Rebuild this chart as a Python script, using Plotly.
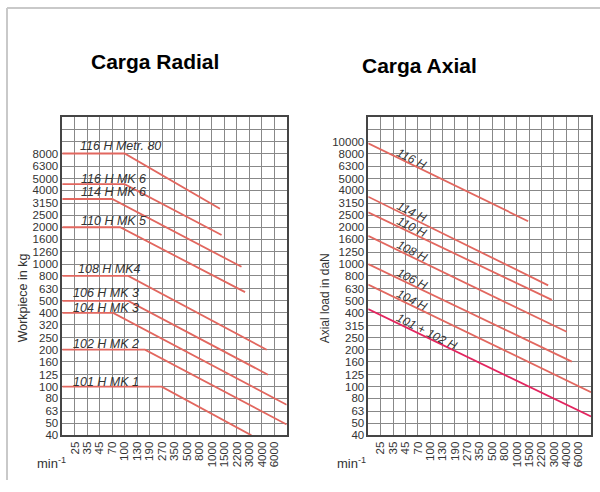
import numpy as np
import plotly.graph_objects as go

# ---------------- data ----------------
SPEED_TICKS = [25, 35, 45, 70, 100, 130, 190, 270, 350, 500, 800, 1000, 1500, 2200, 3000, 4000, 6000]
RADIAL_TICKS = [40, 50, 63, 80, 100, 125, 160, 200, 250, 320, 400, 500, 630, 800, 1000, 1260,
                1600, 2000, 2500, 3150, 4000, 5000, 6300, 8000]
AXIAL_TICKS = [40, 50, 63, 80, 100, 125, 160, 200, 250, 315, 400, 500, 630, 800, 1000, 1250,
               1600, 2000, 2500, 3150, 4000, 5000, 6300, 8000, 10000]
EXTRA_GRID = [10000, 12500]  # unlabeled grid rows above the labeled scale

START_RPM = 17.8  # lowest speed of the chart (left edge)

RADIAL_NAMES = ["116 H Metr. 80", "116 H MK 6", "114 H MK 6", "110 H MK 5", "108 H MK4",
                "106 H MK 3", "104 H MK 3", "102 H MK 2", "101 H MK 1"]
RADIAL_LOAD = [8000, 4500, 3400, 2000, 800, 500, 400, 200, 100]
RADIAL_KNEE_RPM = [100, 100, 70, 88, 108, 108, 72, 165, 267]
RADIAL_END_RPM = [1300, 1370, 2470, 2700, 4700, 4900, 9000, 9000, 3150]
RADIAL_END_LOAD = [2830, 1730, 950, 590, 200, 125, 71, 49, 40]

AXIAL_NAMES = ["116 H", "114 H", "110 H", "108 H", "106 H", "104 H", "101 + 102 H"]
AXIAL_START_LOAD = [9700, 3550, 2650, 1700, 1000, 680, 430]
AXIAL_END_RPM = [1450, 2600, 2850, 4050, 4800, 9000, 9000]
AXIAL_END_LOAD = [2240, 670, 510, 280, 160, 90, 57]
AXIAL_LABEL_RPM = [56.6, 56.6, 56.6, 56.6, 56.6, 56.6, 92.3]

# ---------------- styles ----------------
W, H = 600, 492
LINE_RED = "#e2675f"
LINE_PINK = "#e3255f"
GRID = "#888888"
BORDER = "#454545"
TXT = "#333333"
FONT = "Liberation Sans, Arial, sans-serif"
RADIAL_LABEL_XSHIFT = [16, 17, 17, 17, 14, 9, 9, 9, 9]
RADIAL_LABEL_YSHIFT = [7, 5, 7, 6, 7, 8, 5, 6, 5]


def py(px):
    """pixel row from the top -> paper y"""
    return 1 - px / H


def speed_pos(v):
    """speed (rpm) -> position on the evenly-spaced speed scale (log interpolation)."""
    lt = np.log(SPEED_TICKS)
    lv = np.log(v)
    if lv < lt[0]:
        return (lv - lt[0]) / (lt[1] - lt[0])
    if lv > lt[-1]:
        return len(lt) - 1 + (lv - lt[-1]) / (lt[-1] - lt[-2])
    return float(np.interp(lv, lt, np.arange(len(lt))))


fig = go.Figure()

# radial curves
for name, load, knee, erpm, eload in zip(RADIAL_NAMES, RADIAL_LOAD, RADIAL_KNEE_RPM,
                                         RADIAL_END_RPM, RADIAL_END_LOAD):
    xs = [speed_pos(START_RPM), speed_pos(knee), speed_pos(erpm)]
    ys = [load, load, eload]
    fig.add_trace(go.Scatter(x=xs, y=ys, mode="lines", name=name,
                             line=dict(color=LINE_RED, width=1.8),
                             xaxis="x", yaxis="y", showlegend=False, hoverinfo="skip"))

# axial curves
for k, (name, sload, erpm, eload) in enumerate(zip(AXIAL_NAMES, AXIAL_START_LOAD,
                                                   AXIAL_END_RPM, AXIAL_END_LOAD)):
    col = LINE_PINK if k == len(AXIAL_NAMES) - 1 else LINE_RED
    fig.add_trace(go.Scatter(x=[speed_pos(START_RPM), speed_pos(erpm)], y=[sload, eload],
                             mode="lines", name=name, line=dict(color=col, width=1.8),
                             xaxis="x2", yaxis="y2", showlegend=False, hoverinfo="skip"))

annotations = []
# radial labels
for name, load, xs_, ys_ in zip(RADIAL_NAMES, RADIAL_LOAD, RADIAL_LABEL_XSHIFT, RADIAL_LABEL_YSHIFT):
    annotations.append(dict(text="<i>" + name + "</i>", xref="x", yref="y", x=-1,
                            y=np.log10(load), xanchor="left", yanchor="middle",
                            xshift=xs_, yshift=ys_, showarrow=False,
                            font=dict(family=FONT, size=12.5, color=TXT)))
# axial labels (along the lines)
for name, sload, erpm, eload, lrpm in zip(AXIAL_NAMES, AXIAL_START_LOAD, AXIAL_END_RPM,
                                          AXIAL_END_LOAD, AXIAL_LABEL_RPM):
    p0, p1, pl = speed_pos(START_RPM), speed_pos(erpm), speed_pos(lrpm)
    ly = np.interp(pl, [p0, p1], [np.log10(sload), np.log10(eload)])
    annotations.append(dict(text="<i>" + name + "</i>", xref="x2", yref="y2", x=pl, y=ly,
                            xanchor="center", yanchor="middle", yshift=6, textangle=27,
                            showarrow=False, font=dict(family=FONT, size=12, color=TXT)))

# titles and axis captions
annotations += [
    dict(text="<b>Carga Radial</b>", xref="paper", yref="paper", x=154.7 / W, y=py(62.5),
         xanchor="center", yanchor="middle", showarrow=False,
         font=dict(family=FONT, size=21, color="#000000")),
    dict(text="<b>Carga Axial</b>", xref="paper", yref="paper", x=419.7 / W, y=py(66.5),
         xanchor="center", yanchor="middle", showarrow=False,
         font=dict(family=FONT, size=21, color="#000000")),
    dict(text="Workpiece in kg", xref="paper", yref="paper", x=23 / W, y=py(302),
         xanchor="center", yanchor="middle", textangle=-90, showarrow=False,
         font=dict(family=FONT, size=12.5, color=TXT)),
    dict(text="Axial load in daN", xref="paper", yref="paper", x=325 / W, y=py(302),
         xanchor="center", yanchor="middle", textangle=-90, showarrow=False,
         font=dict(family=FONT, size=12, color=TXT)),
    dict(text="min<sup>-1</sup>", xref="paper", yref="paper", x=51 / W, y=py(469),
         xanchor="center", yanchor="middle", showarrow=False,
         font=dict(family=FONT, size=13, color=TXT)),
    dict(text="min<sup>-1</sup>", xref="paper", yref="paper", x=351 / W, y=py(469),
         xanchor="center", yanchor="middle", showarrow=False,
         font=dict(family=FONT, size=13, color=TXT)),
]

x_common = dict(tickmode="array", tickvals=list(range(len(SPEED_TICKS))),
                ticktext=[str(v) for v in SPEED_TICKS], tickangle=-90,
                range=[-1, len(SPEED_TICKS)], showgrid=True, gridcolor=GRID, gridwidth=1.4,
                showline=True, mirror=True, linecolor=BORDER, linewidth=1.6,
                zeroline=False, ticks="", fixedrange=True,
                tickfont=dict(family=FONT, size=11.5, color=TXT))
y_range = [np.log10(40), np.log10(40) + 2.6]
y_common = dict(type="log", range=y_range, showgrid=True, gridcolor=GRID, gridwidth=1.4,
                showline=True, mirror=True, linecolor=BORDER, linewidth=1.6,
                zeroline=False, ticks="", fixedrange=True, tickmode="array",
                tickfont=dict(family=FONT, size=11.5, color=TXT))

Y_DOMAIN = [py(440.7), py(118.3)]

fig.update_layout(
    width=W, height=H, autosize=False,
    margin=dict(l=0, r=0, t=0, b=0),
    paper_bgcolor="white", plot_bgcolor="white",
    xaxis=dict(domain=[62.3 / W, 286.7 / W], anchor="y", **x_common),
    xaxis2=dict(domain=[368.3 / W, 591 / W], anchor="y2", **x_common),
    yaxis=dict(domain=Y_DOMAIN, anchor="x",
               tickvals=RADIAL_TICKS, ticktext=[str(v) for v in RADIAL_TICKS],
               minor=dict(tickmode="array", tickvals=EXTRA_GRID, showgrid=True,
                          gridcolor=GRID, gridwidth=1.4, ticks=""),
               **y_common),
    yaxis2=dict(domain=Y_DOMAIN, anchor="x2",
                tickvals=AXIAL_TICKS, ticktext=[str(v) for v in AXIAL_TICKS],
                minor=dict(tickmode="array", tickvals=EXTRA_GRID[1:], showgrid=True,
                           gridcolor=GRID, gridwidth=1.4, ticks=""),
                **y_common),
    annotations=annotations,
    shapes=[
        dict(type="line", xref="paper", yref="paper", x0=7 / W, x1=1.0, y0=py(8), y1=py(8),
             line=dict(color="#c9c9c9", width=2)),
        dict(type="line", xref="paper", yref="paper", x0=7 / W, x1=7 / W, y0=py(486), y1=py(8),
             line=dict(color="#c9c9c9", width=2)),
    ],
)

fig.write_html("out.html", config={"displayModeBar": False},
               post_script="document.body.style.margin='0px';")
